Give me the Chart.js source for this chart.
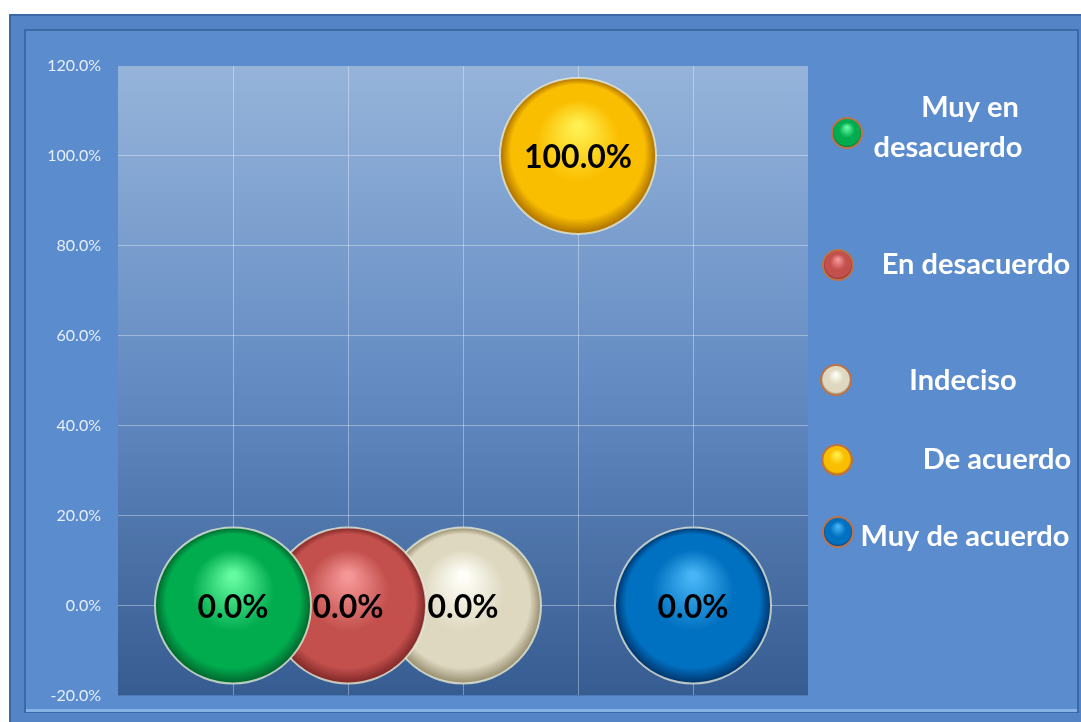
<!DOCTYPE html>
<html lang="es">
<head>
    <meta charset="UTF-8" />
    <title>Grado de acuerdo</title>
    <script src="https://cdn.jsdelivr.net/npm/chart.js"></script>
    <style>
        html, body { margin: 0; padding: 0; background: #fff; }
        #wrap { width: 1081px; height: 722px; position: relative; }
    </style>
</head>
<body>
    <div id="wrap"><canvas id="bubbleChart" width="1081" height="722"></canvas></div>

    <script>
        // categories and their values (share of answers)
        const categories = ["Muy en desacuerdo", "En desacuerdo", "Indeciso", "De acuerdo", "Muy de acuerdo"];
        const xPositions = [1, 2, 3, 4, 5];
        const shares = [0.0, 0.0, 0.0, 1.0, 0.0];
        const yTicks = [-0.2, 0, 0.2, 0.4, 0.6, 0.8, 1.0, 1.2];

        // sphere colours: [highlight, base, shadow]
        const palette = [
            ["rgb(100,250,160)", "rgb(0,172,78)", "rgb(0,100,45)"],
            ["rgb(245,150,150)", "rgb(195,80,77)", "rgb(125,38,38)"],
            ["rgb(255,255,248)", "rgb(222,216,192)", "rgb(150,140,110)"],
            ["rgb(255,240,80)", "rgb(250,190,0)", "rgb(170,110,0)"],
            ["rgb(70,180,245)", "rgb(0,112,192)", "rgb(0,50,105)"]
        ];
        const bubbleRadius = 78;

        function sphereFill(ctx, colors, x, y, r) {
            const g = ctx.createRadialGradient(x, y - r * 0.38, r * 0.05, x, y, r);
            g.addColorStop(0, colors[0]);
            g.addColorStop(0.5, colors[1]);
            g.addColorStop(0.85, colors[1]);
            g.addColorStop(1, colors[2]);
            return g;
        }

        function bubbleColor(context) {
            const i = context.datasetIndex;
            const chart = context.chart;
            if (!context.parsed || !chart.scales.x) return palette[i][1];
            const x = chart.scales.x.getPixelForValue(context.parsed.x);
            const y = chart.scales.y.getPixelForValue(context.parsed.y);
            if (!isFinite(x) || !isFinite(y)) return palette[i][1];
            return sphereFill(chart.ctx, palette[i], x, y, bubbleRadius);
        }

        // frame, panel and plot-area gradient
        const backdrop = {
            id: 'backdrop',
            beforeDraw(chart) {
                const c = chart.ctx;
                const a = chart.chartArea;
                c.save();
                c.fillStyle = '#ffffff';
                c.fillRect(0, 0, chart.width, chart.height);
                c.fillStyle = 'rgb(60,105,165)';
                c.fillRect(9, 14, chart.width - 9, chart.height - 14);
                c.fillStyle = 'rgb(84,132,198)';
                c.fillRect(11, 16, chart.width - 11, chart.height - 16);
                c.fillStyle = 'rgb(60,105,165)';
                c.fillRect(24, 29, chart.width - 26, 684);
                c.fillStyle = 'rgb(91,140,206)';
                c.fillRect(26, 31, chart.width - 30, 680);
                c.fillStyle = 'rgb(135,178,232)';
                c.fillRect(26, 709, chart.width - 30, 3);
                const g = c.createLinearGradient(0, a.top, 0, a.bottom);
                g.addColorStop(0, 'rgb(150,180,218)');
                g.addColorStop(0.5, 'rgb(100,140,195)');
                g.addColorStop(1, 'rgb(55,92,145)');
                c.fillStyle = g;
                c.fillRect(a.left, a.top, a.right - a.left, a.bottom - a.top);
                c.restore();
            }
        };

        // value labels in the middle of each bubble
        const valueLabels = {
            id: 'valueLabels',
            afterDatasetsDraw(chart) {
                const c = chart.ctx;
                c.save();
                c.font = 'bold 32px Lato, "Open Sans", sans-serif';
                c.fillStyle = '#000';
                c.textAlign = 'center';
                c.textBaseline = 'middle';
                chart.data.datasets.forEach((ds, i) => {
                    const pt = chart.getDatasetMeta(i).data[0];
                    c.fillText((ds.data[0].y * 100).toFixed(1) + '%', pt.x, pt.y + 2);
                });
                c.restore();
            }
        };

        // legend on the right with small spheres
        const sideLegend = {
            id: 'sideLegend',
            afterDraw(chart) {
                const c = chart.ctx;
                const items = [
                    { lines: ["Muy en", "desacuerdo"], tx: [970, 948], ty: [108, 148], mx: 847, my: 133 },
                    { lines: ["En desacuerdo"], tx: [976], ty: [265], mx: 838, my: 265 },
                    { lines: ["Indeciso"], tx: [963], ty: [381], mx: 836, my: 380 },
                    { lines: ["De acuerdo"], tx: [997], ty: [460], mx: 837, my: 460 },
                    { lines: ["Muy de acuerdo"], tx: [965], ty: [537], mx: 838, my: 532 }
                ];
                c.save();
                items.forEach((it, i) => {
                    const r = 15;
                    c.beginPath();
                    c.arc(it.mx, it.my, r, 0, Math.PI * 2);
                    c.fillStyle = sphereFill(c, palette[i], it.mx, it.my, r);
                    c.fill();
                    c.lineWidth = 2;
                    c.strokeStyle = 'rgb(190,115,70)';
                    c.stroke();
                    c.font = 'bold 29px Lato, "Open Sans", sans-serif';
                    c.fillStyle = '#ffffff';
                    c.textAlign = 'center';
                    c.textBaseline = 'middle';
                    it.lines.forEach((t, k) => c.fillText(t, it.tx[k], it.ty[k]));
                });
                c.restore();
            }
        };

        const datasets = categories.map((name, i) => ({
            label: name,
            data: [{ x: xPositions[i], y: shares[i] }],
            radius: bubbleRadius,
            backgroundColor: bubbleColor,
            borderColor: 'rgba(235,240,220,0.75)',
            borderWidth: 2,
            hoverRadius: 0
        }));

        new Chart(document.getElementById('bubbleChart'), {
            type: 'bubble',
            data: { datasets },
            options: {
                responsive: false,
                animation: false,
                events: [],
                layout: { autoPadding: false, padding: { top: 66, right: 273, bottom: 22, left: 0 } },
                plugins: { legend: { display: false }, tooltip: { enabled: false } },
                scales: {
                    x: {
                        type: 'linear', min: 0, max: 6,
                        border: { display: false },
                        ticks: { display: false, stepSize: 1 },
                        grid: {
                            drawTicks: false,
                            color: (ctx) => (ctx.index === 0 || ctx.index === 6) ? 'rgba(0,0,0,0)' : 'rgba(255,255,255,0.35)'
                        },
                        afterFit(scale) { scale.height = 0; }
                    },
                    y: {
                        min: -0.2, max: 1.2,
                        border: { display: false },
                        afterBuildTicks(scale) { scale.ticks = yTicks.map(v => ({ value: v })); },
                        ticks: {
                            padding: 17,
                            color: 'rgb(230,238,248)',
                            font: { family: 'Lato, "Open Sans", sans-serif', size: 16 },
                            callback: (v) => (v * 100).toFixed(1) + '%'
                        },
                        grid: {
                            drawTicks: false,
                            color: (ctx) => (ctx.index === 0 || ctx.index === yTicks.length - 1) ? 'rgba(0,0,0,0)' : 'rgba(255,255,255,0.35)'
                        },
                        afterFit(scale) { scale.width = 118; }
                    }
                }
            },
            plugins: [backdrop, valueLabels, sideLegend]
        });
    </script>
</body>
</html>
